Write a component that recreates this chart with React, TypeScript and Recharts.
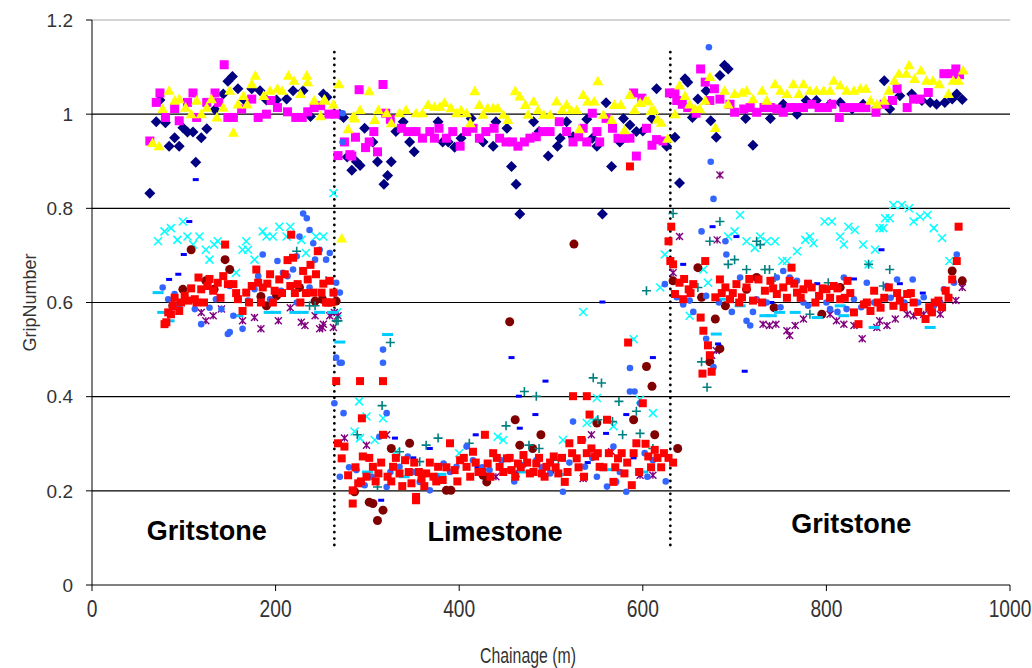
import { ScatterChart, Scatter, XAxis, YAxis, ReferenceLine, ReferenceDot } from "recharts";

// [chainage (m), grip number]
const navyDiamonds = [
  [63, 0.832], [70, 0.984], [74, 1.03], [80, 0.982], [84, 0.932], [90, 0.95], [95, 0.932], [99, 0.971], [104, 0.962], [110, 0.962],
  [113, 0.898], [119, 0.95], [125, 0.969], [134, 1.01], [143, 1.043], [148, 1.07], [153, 1.08], [159, 1.054], [166, 1.03], [174, 1.054],
  [183, 1.05], [190, 1.03], [201, 1.03], [212, 1.032], [219, 1.05], [230, 1.05], [238, 0.995], [252, 1.043], [256, 1.036], [270, 1.0],
  [274, 0.993], [278, 0.909], [283, 0.881], [288, 0.899], [292, 0.891], [297, 0.97], [306, 0.941], [311, 0.899], [318, 0.851], [322, 0.87],
  [326, 0.899], [331, 0.963], [339, 0.984], [346, 0.941], [351, 0.92], [377, 0.984], [382, 0.941], [388, 0.941], [395, 0.93], [402, 0.949],
  [413, 0.991], [426, 0.941], [437, 0.932], [440, 0.984], [452, 0.97], [457, 0.889], [462, 0.851], [466, 0.788], [481, 0.984], [487, 0.963],
  [497, 0.911], [507, 0.932], [510, 0.949], [517, 0.984], [524, 0.952], [539, 0.989], [545, 0.949], [550, 0.932], [556, 0.788], [560, 1.024],
  [566, 0.889], [575, 0.941], [579, 0.991], [586, 0.977], [593, 0.963], [600, 0.964], [610, 0.991], [615, 1.054], [626, 0.932], [635, 0.951],
  [640, 0.854], [646, 1.075], [649, 1.068], [654, 0.993], [660, 1.032], [669, 1.05], [674, 0.986], [680, 0.951], [684, 1.082], [689, 1.104],
  [693, 1.096], [712, 0.991], [720, 0.934], [739, 0.991], [753, 1.021], [768, 1.0], [778, 1.029], [789, 1.029], [804, 1.021], [815, 1.025],
  [828, 1.011], [840, 1.021], [855, 1.014], [863, 1.071], [869, 1.011], [880, 1.039], [893, 1.043], [904, 1.029], [913, 1.025], [920, 1.021],
  [929, 1.025], [937, 1.032], [942, 1.043], [948, 1.031],
];

const magentaSquares = [
  [63, 0.943], [70, 1.025], [74, 1.045], [80, 0.993], [90, 1.012], [95, 0.986], [104, 1.025], [110, 1.045], [114, 0.993], [125, 1.025],
  [134, 1.045], [138, 1.025], [144, 1.105], [148, 0.993], [154, 0.993], [163, 1.011], [174, 1.032], [181, 0.993], [190, 1.0], [195, 1.029],
  [202, 1.014], [213, 1.005], [222, 0.993], [229, 0.993], [235, 1.005], [242, 1.014], [249, 1.018], [258, 1.0], [265, 1.0], [268, 0.912],
  [275, 0.941], [281, 0.914], [283, 0.911], [287, 0.951], [291, 1.052], [298, 0.929], [302, 0.941], [307, 0.963], [311, 0.92], [317, 1.063],
  [320, 1.002], [325, 0.989], [337, 0.97], [344, 0.963], [353, 0.963], [360, 0.949], [368, 0.963], [373, 0.949], [378, 0.97], [386, 0.949],
  [393, 0.963], [401, 0.932], [408, 0.963], [415, 0.97], [422, 0.949], [429, 0.963], [438, 0.97], [444, 0.949], [451, 0.941], [458, 0.941],
  [464, 0.932], [471, 0.941], [477, 0.949], [484, 0.952], [491, 0.963], [499, 0.963], [509, 0.984], [517, 0.963], [524, 0.941], [530, 0.952],
  [535, 0.97], [539, 0.941], [545, 1.002], [550, 0.963], [553, 0.941], [560, 0.991], [567, 0.97], [573, 0.949], [580, 0.949], [586, 0.949],
  [590, 1.045], [593, 0.911], [599, 1.034], [604, 0.97], [610, 0.934], [615, 0.946], [622, 0.943], [629, 1.045], [635, 1.045], [637, 1.029],
  [643, 1.021], [649, 1.014], [658, 1.002], [663, 1.096], [668, 1.068], [673, 1.029], [678, 1.054], [684, 1.032], [695, 1.021], [700, 1.004],
  [710, 1.011], [717, 1.014], [724, 1.004], [732, 1.014], [739, 1.014], [746, 1.011], [753, 1.004], [761, 1.014], [768, 1.014], [775, 1.014],
  [784, 1.021], [792, 1.014], [801, 1.014], [806, 1.021], [814, 0.993], [819, 1.014], [826, 1.014], [835, 1.014], [843, 1.014], [854, 1.004],
  [863, 1.021], [872, 1.029], [877, 1.054], [888, 1.014], [895, 1.032], [902, 1.032], [911, 1.046], [928, 1.086], [936, 1.086], [941, 1.096],
  [945, 1.084],
];

const yellowTriangles = [
  [66, 0.939], [73, 0.932], [77, 1.011], [84, 1.05], [90, 1.029], [95, 1.032], [102, 1.014], [108, 1.0], [114, 1.029], [119, 1.0],
  [125, 1.014], [130, 1.032], [136, 0.993], [143, 1.014], [150, 1.05], [154, 0.961], [159, 1.021], [165, 1.039], [169, 1.021], [174, 1.064],
  [178, 1.082], [187, 1.039], [194, 1.05], [202, 1.054], [207, 1.05], [214, 1.082], [220, 1.071], [227, 1.043], [234, 1.082], [235, 1.068],
  [242, 1.029], [249, 0.996], [253, 1.031], [254, 1.029], [263, 1.021], [269, 1.064], [272, 0.736], [279, 0.968], [285, 0.996], [286, 0.991],
  [292, 1.009], [302, 1.049], [308, 0.988], [312, 1.009], [321, 1.002], [326, 0.981], [335, 1.002], [342, 1.009], [353, 1.002], [360, 1.002],
  [366, 1.02], [373, 1.016], [379, 1.016], [384, 1.024], [391, 1.013], [397, 1.002], [402, 1.009], [408, 1.002], [412, 0.981], [417, 1.049],
  [422, 1.02], [426, 0.999], [431, 1.013], [437, 1.013], [442, 1.013], [448, 0.999], [453, 0.988], [461, 1.049], [466, 1.038], [472, 1.02],
  [475, 0.999], [481, 1.027], [486, 1.009], [492, 0.999], [499, 0.999], [506, 1.027], [512, 1.009], [517, 1.02], [522, 1.009], [528, 1.009],
  [531, 0.968], [535, 1.041], [540, 1.027], [547, 1.027], [551, 1.07], [557, 0.999], [566, 0.988], [569, 1.02], [576, 1.02], [580, 0.966],
  [586, 1.041], [591, 1.009], [597, 1.024], [603, 1.029], [606, 1.027], [609, 1.007], [612, 1.009], [616, 0.989], [620, 0.982], [627, 0.948],
  [635, 1.0], [640, 1.061], [646, 1.039], [651, 1.021], [657, 1.011], [662, 1.011], [668, 1.029], [673, 1.079], [679, 0.971], [689, 1.05],
  [693, 1.021], [700, 1.043], [708, 1.046], [713, 1.05], [720, 1.032], [730, 1.05], [735, 1.029], [744, 1.064], [750, 1.05], [757, 1.043],
  [764, 1.064], [770, 1.043], [775, 1.064], [782, 1.05], [789, 1.05], [797, 1.05], [804, 1.05], [808, 1.071], [815, 1.061], [822, 1.05],
  [830, 1.05], [837, 1.054], [843, 1.054], [848, 1.029], [855, 1.021], [863, 1.029], [868, 1.05], [874, 1.071], [879, 1.086], [887, 1.086],
  [890, 1.104], [896, 1.075], [903, 1.093], [909, 1.071], [916, 1.071], [923, 1.064], [933, 1.043], [938, 1.071], [944, 1.071], [949, 1.093],
];

const cyanCrosses = [
  [72, 0.73], [79, 0.751], [86, 0.758], [93, 0.733], [99, 0.772], [104, 0.74], [110, 0.723], [117, 0.74], [124, 0.712], [128, 0.691],
  [133, 0.723], [137, 0.73], [157, 0.663], [164, 0.712], [168, 0.73], [170, 0.712], [177, 0.691], [186, 0.751], [190, 0.74], [197, 0.74],
  [204, 0.761], [212, 0.74], [216, 0.761], [228, 0.733], [233, 0.705], [244, 0.74], [252, 0.74], [263, 0.832], [267, 0.579],
  [286, 0.326], [291, 0.39], [292, 0.312], [299, 0.358], [308, 0.308], [317, 0.354], [331, 0.283], [400, 0.28], [442, 0.315], [448, 0.308],
  [513, 0.308], [535, 0.58], [539, 0.344], [546, 0.35], [550, 0.397], [568, 0.337], [590, 0.522], [597, 0.394], [611, 0.365],
  [619, 0.632], [624, 0.702], [651, 0.572], [666, 0.67], [671, 0.642], [693, 0.74], [700, 0.751], [706, 0.786], [713, 0.73], [722, 0.716],
  [728, 0.74], [735, 0.73], [744, 0.73], [752, 0.688], [757, 0.688], [768, 0.709], [777, 0.733], [782, 0.74], [786, 0.726], [798, 0.772],
  [806, 0.772], [815, 0.74], [819, 0.723], [824, 0.761], [831, 0.754], [840, 0.723], [846, 0.681], [853, 0.712], [858, 0.758], [862, 0.758],
  [864, 0.779], [869, 0.779], [873, 0.807], [882, 0.807], [890, 0.8], [895, 0.772], [902, 0.782], [910, 0.786], [917, 0.758], [926, 0.737],
  [934, 0.688],
];

const purpleStars = [
  [119, 0.579], [124, 0.561], [132, 0.572], [141, 0.586], [164, 0.561], [177, 0.568], [184, 0.544], [203, 0.561], [216, 0.589], [228, 0.558],
  [232, 0.551], [243, 0.572], [248, 0.544], [251, 0.547], [252, 0.554], [259, 0.572], [263, 0.547], [264, 0.579], [268, 0.572], [275, 0.312],
  [299, 0.297], [321, 0.319], [440, 0.23], [462, 0.237], [535, 0.226], [544, 0.319], [566, 0.283], [597, 0.233], [611, 0.233], [633, 0.663],
  [640, 0.74], [675, 0.488], [680, 0.498], [681, 0.733], [684, 0.871], [731, 0.554], [738, 0.551], [745, 0.554], [757, 0.54], [760, 0.53],
  [766, 0.551], [775, 0.565], [804, 0.575], [811, 0.561], [819, 0.554], [830, 0.551], [839, 0.523], [855, 0.547], [858, 0.561], [866, 0.551],
  [875, 0.565], [888, 0.575], [895, 0.572], [906, 0.575], [924, 0.575], [941, 0.604], [948, 0.632],
];

const darkRedCircles = [
  [88, 0.593], [99, 0.628], [108, 0.712], [124, 0.646], [133, 0.628], [145, 0.691], [150, 0.67], [184, 0.613], [190, 0.593], [201, 0.614],
  [226, 0.632], [243, 0.603], [251, 0.607], [266, 0.603], [286, 0.198], [302, 0.176], [306, 0.173], [311, 0.137], [317, 0.159], [326, 0.29],
  [346, 0.301], [386, 0.201], [391, 0.201], [426, 0.233], [430, 0.219], [455, 0.559], [461, 0.351], [466, 0.297], [480, 0.29], [489, 0.319],
  [525, 0.724], [550, 0.344], [590, 0.351], [604, 0.464], [610, 0.422], [613, 0.319], [633, 0.646], [638, 0.29], [660, 0.674], [664, 0.611],
  [673, 0.474], [679, 0.565], [684, 0.502], [690, 0.593], [713, 0.628], [724, 0.653], [743, 0.589], [795, 0.575], [815, 0.632], [937, 0.667],
  [948, 0.646],
];

const tealPluses = [
  [223, 0.709], [237, 0.593], [243, 0.593], [255, 0.646], [266, 0.561], [268, 0.561], [289, 0.319], [311, 0.208], [316, 0.381], [325, 0.515],
  [335, 0.283], [357, 0.262], [364, 0.297], [377, 0.312], [411, 0.301], [451, 0.338], [471, 0.411], [476, 0.297], [484, 0.401], [487, 0.29],
  [508, 0.265], [546, 0.44], [551, 0.351], [555, 0.429], [567, 0.347], [574, 0.39], [578, 0.319], [593, 0.369], [597, 0.322], [604, 0.625],
  [611, 0.29], [633, 0.789], [660, 0.632], [664, 0.474], [670, 0.42], [673, 0.73], [684, 0.772], [693, 0.681], [700, 0.691], [713, 0.67],
  [724, 0.73], [728, 0.723], [733, 0.67], [738, 0.67], [744, 0.653], [782, 0.575], [802, 0.642], [846, 0.681], [862, 0.635], [869, 0.67],
];

const blueDashes = [
  [84, 0.649], [94, 0.66], [100, 0.702], [106, 0.772], [113, 0.861], [315, 0.18], [330, 0.312], [350, 0.27], [368, 0.29], [418, 0.319],
  [420, 0.25], [457, 0.483], [465, 0.401], [466, 0.333], [483, 0.362], [494, 0.433], [500, 0.24], [540, 0.26], [556, 0.601], [560, 0.322],
  [582, 0.362], [590, 0.27], [611, 0.483], [644, 0.681], [676, 0.761], [682, 0.512], [702, 0.74], [711, 0.454], [740, 0.6], [790, 0.64],
  [830, 0.65], [860, 0.712], [880, 0.64], [905, 0.62],
];

const skyDashes = [
  [72, 0.621], [77, 0.579], [84, 0.561], [159, 0.572], [193, 0.579], [200, 0.579], [221, 0.579], [230, 0.579], [248, 0.579], [262, 0.579],
  [270, 0.516], [322, 0.532], [300, 0.24], [340, 0.23], [380, 0.235], [430, 0.245], [470, 0.24], [510, 0.235], [560, 0.245], [600, 0.24],
  [680, 0.533], [686, 0.607], [706, 0.593], [733, 0.572], [740, 0.572], [749, 0.579], [766, 0.579], [790, 0.568], [815, 0.593], [819, 0.572],
  [852, 0.547], [913, 0.547],
];

const blueDots = [
  [77, 0.632], [83, 0.607], [90, 0.618], [95, 0.593], [102, 0.607], [112, 0.586], [119, 0.554], [128, 0.589], [135, 0.607], [141, 0.586],
  [148, 0.533], [150, 0.635], [150, 0.537], [154, 0.572], [164, 0.544], [170, 0.604], [177, 0.628], [181, 0.656], [186, 0.702], [194, 0.607],
  [202, 0.688], [206, 0.625], [208, 0.663], [213, 0.656], [219, 0.67], [223, 0.698], [223, 0.6], [226, 0.74], [230, 0.789], [234, 0.779],
  [237, 0.754], [237, 0.632], [241, 0.726], [243, 0.691], [248, 0.712], [255, 0.691], [259, 0.705], [266, 0.642], [270, 0.621], [273, 1.002],
  [273, 0.941], [264, 0.386], [266, 0.483], [270, 0.472], [272, 0.472], [274, 0.365], [270, 0.23], [280, 0.25], [288, 0.244], [297, 0.212],
  [305, 0.23], [313, 0.315], [317, 0.5], [317, 0.472], [321, 0.365], [321, 0.208], [325, 0.24], [335, 0.251], [344, 0.273], [350, 0.24],
  [357, 0.219], [368, 0.201], [375, 0.23], [383, 0.258], [390, 0.24], [397, 0.251], [408, 0.294], [415, 0.265], [425, 0.25], [433, 0.244],
  [446, 0.265], [455, 0.244], [460, 0.22], [470, 0.255], [484, 0.265], [490, 0.25], [499, 0.237], [513, 0.198], [520, 0.26], [524, 0.347],
  [535, 0.308], [537, 0.251], [545, 0.27], [550, 0.23], [561, 0.209], [568, 0.294], [571, 0.219], [575, 0.24], [582, 0.198], [586, 0.461],
  [586, 0.411], [591, 0.411], [597, 0.386], [602, 0.28], [605, 0.23], [611, 0.265], [625, 0.22], [624, 0.639], [637, 0.611], [644, 0.596],
  [651, 0.604], [655, 0.58], [664, 0.751], [669, 0.523], [669, 0.614], [672, 1.142], [674, 0.899], [677, 0.82], [677, 0.463], [683, 0.6],
  [690, 0.73], [691, 0.702], [697, 0.58], [706, 0.653], [713, 0.561], [717, 0.551], [720, 0.58], [724, 0.607], [735, 0.6], [746, 0.653],
  [750, 0.59], [753, 0.667], [760, 0.653], [768, 0.646], [775, 0.6], [780, 0.593], [793, 0.614], [800, 0.6], [804, 0.586], [812, 0.58],
  [819, 0.653], [822, 0.586], [830, 0.607], [838, 0.59], [844, 0.642], [852, 0.6], [866, 0.635], [870, 0.61], [877, 0.649], [885, 0.6],
  [894, 0.649], [900, 0.6], [906, 0.611], [913, 0.58], [917, 0.593], [924, 0.6], [928, 0.628], [939, 0.642], [942, 0.702],
];

const redSquares = [
  [79, 0.554], [81, 0.558], [83, 0.579], [86, 0.575], [88, 0.593], [90, 0.61], [95, 0.582], [97, 0.6], [101, 0.614], [105, 0.604],
  [108, 0.63], [112, 0.607], [114, 0.6], [116, 0.653], [119, 0.628], [122, 0.6], [126, 0.635], [128, 0.65], [132, 0.625], [137, 0.642],
  [140, 0.61], [143, 0.656], [145, 0.723], [148, 0.639], [154, 0.639], [157, 0.62], [159, 0.607], [164, 0.582], [168, 0.621], [171, 0.6],
  [174, 0.635], [179, 0.67], [181, 0.642], [184, 0.6], [186, 0.632], [191, 0.64], [194, 0.66], [197, 0.6], [199, 0.625], [204, 0.649],
  [207, 0.62], [210, 0.66], [213, 0.69], [216, 0.635], [217, 0.744], [219, 0.695], [221, 0.62], [224, 0.639], [227, 0.6], [230, 0.667],
  [233, 0.62], [235, 0.649], [238, 0.68], [241, 0.621], [244, 0.66], [246, 0.709], [250, 0.621], [252, 0.64], [255, 0.6], [257, 0.6],
  [259, 0.646], [261, 0.6], [263, 0.621],
  [266, 0.433], [268, 0.301], [272, 0.269], [275, 0.294], [279, 0.233], [284, 0.201], [284, 0.173], [287, 0.25], [290, 0.216], [292, 0.433],
  [293, 0.22], [294, 0.354], [295, 0.273], [299, 0.23], [302, 0.27], [306, 0.251], [309, 0.22], [312, 0.237], [315, 0.26], [317, 0.319],
  [317, 0.433], [322, 0.23], [326, 0.22], [328, 0.251], [331, 0.27], [335, 0.237], [338, 0.21], [341, 0.265], [345, 0.24], [348, 0.216],
  [351, 0.26], [353, 0.187], [353, 0.18], [356, 0.24], [359, 0.226], [362, 0.21], [364, 0.237], [368, 0.26], [372, 0.23], [375, 0.22],
  [377, 0.251], [382, 0.223], [386, 0.25], [390, 0.301], [395, 0.244], [398, 0.22], [401, 0.265], [405, 0.27], [408, 0.251], [412, 0.23],
  [415, 0.283], [418, 0.26], [421, 0.24], [425, 0.24], [428, 0.319], [431, 0.258], [434, 0.23], [437, 0.28], [441, 0.27], [444, 0.251],
  [448, 0.24], [452, 0.269], [455, 0.27], [457, 0.244], [461, 0.23], [464, 0.258], [467, 0.25], [470, 0.276], [474, 0.26], [477, 0.237],
  [481, 0.24], [484, 0.258], [487, 0.27], [490, 0.237], [493, 0.23], [495, 0.251], [499, 0.26], [503, 0.273], [505, 0.25], [508, 0.237],
  [512, 0.27], [515, 0.219], [518, 0.24], [520, 0.301], [523, 0.28], [524, 0.401], [528, 0.269], [530, 0.25], [533, 0.308], [536, 0.23],
  [539, 0.28], [539, 0.401], [542, 0.362], [544, 0.29], [548, 0.273], [551, 0.28], [553, 0.251], [557, 0.25], [561, 0.351], [563, 0.28],
  [568, 0.219], [570, 0.25], [573, 0.269], [577, 0.28], [580, 0.237], [583, 0.26], [584, 0.515], [586, 0.889], [588, 0.212], [590, 0.28],
  [593, 0.301], [596, 0.24], [600, 0.386], [603, 0.3], [606, 0.273], [609, 0.25], [613, 0.287], [616, 0.27], [620, 0.25], [623, 0.28],
  [628, 0.27], [633, 0.26],
  [631, 0.761], [628, 0.73], [630, 0.688], [633, 0.681], [635, 0.618], [640, 0.642], [644, 0.607], [645, 0.65], [650, 0.628], [652, 0.62],
  [655, 0.639], [663, 0.568], [665, 0.449], [666, 0.54], [668, 0.688], [671, 0.509], [673, 0.488], [675, 0.453], [679, 0.611], [684, 0.649],
  [686, 0.62], [690, 0.632], [695, 0.607], [698, 0.62], [702, 0.639], [705, 0.6], [708, 0.611], [713, 0.632], [716, 0.65], [720, 0.604],
  [726, 0.649], [730, 0.6], [733, 0.625], [739, 0.646], [742, 0.63], [746, 0.618], [753, 0.632], [757, 0.61], [760, 0.646], [762, 0.674],
  [765, 0.64], [768, 0.621], [772, 0.61], [775, 0.628], [780, 0.64], [784, 0.632], [788, 0.6], [792, 0.614], [796, 0.63], [800, 0.628],
  [804, 0.61], [808, 0.635], [812, 0.63], [815, 0.607], [820, 0.61], [823, 0.646], [826, 0.62], [830, 0.579], [835, 0.554], [841, 0.596],
  [844, 0.6], [848, 0.582], [852, 0.625], [856, 0.6], [859, 0.589], [863, 0.61], [868, 0.632], [873, 0.593], [877, 0.62], [880, 0.604],
  [884, 0.59], [888, 0.618], [892, 0.62], [895, 0.6], [900, 0.58], [908, 0.565], [912, 0.59], [915, 0.579], [918, 0.6], [922, 0.604],
  [926, 0.59], [930, 0.625], [933, 0.61], [937, 0.649], [942, 0.688], [944, 0.761],
];

const xTicks = [0, 200, 400, 600, 800, 1000];
const yTicks = [0, 0.2, 0.4, 0.6, 0.8, 1, 1.2];
const gridValues = [0.2, 0.4, 0.6, 0.8, 1];
const boundaries = [264, 630];
const zones = [
  { name: "Gritstone", x: 125, y: 0.115 },
  { name: "Limestone", x: 439, y: 0.113 },
  { name: "Gritstone", x: 827, y: 0.13 },
];

const pts = (arr: number[][]) => arr.map(([x, y]) => ({ x, y }));

const diamond = (fill: string, r: number) => (p: any) => (
  <path d={`M${p.cx},${p.cy - r}L${p.cx + r},${p.cy}L${p.cx},${p.cy + r}L${p.cx - r},${p.cy}Z`} fill={fill} />
);
const square = (fill: string, h: number) => (p: any) => (
  <rect x={p.cx - h} y={p.cy - h} width={h * 2} height={h * 2} fill={fill} />
);
const triangle = (fill: string, r: number) => (p: any) => (
  <path d={`M${p.cx},${p.cy - r}L${p.cx + r},${p.cy + r * 0.75}L${p.cx - r},${p.cy + r * 0.75}Z`} fill={fill} />
);
const circle = (fill: string, r: number) => (p: any) => <circle cx={p.cx} cy={p.cy} r={r} fill={fill} />;
const cross = (stroke: string, r: number) => (p: any) => (
  <path d={`M${p.cx - r},${p.cy - r}L${p.cx + r},${p.cy + r}M${p.cx - r},${p.cy + r}L${p.cx + r},${p.cy - r}`} stroke={stroke} strokeWidth={1.5} fill="none" />
);
const star = (stroke: string, r: number) => (p: any) => (
  <path
    d={`M${p.cx - r},${p.cy - r}L${p.cx + r},${p.cy + r}M${p.cx - r},${p.cy + r}L${p.cx + r},${p.cy - r}M${p.cx},${p.cy - r}L${p.cx},${p.cy + r}`}
    stroke={stroke}
    strokeWidth={1.4}
    fill="none"
  />
);
const plus = (stroke: string, r: number) => (p: any) => (
  <path d={`M${p.cx - r},${p.cy}L${p.cx + r},${p.cy}M${p.cx},${p.cy - r}L${p.cx},${p.cy + r}`} stroke={stroke} strokeWidth={1.6} fill="none" />
);
const dash = (fill: string, w: number) => (p: any) => <rect x={p.cx - w / 2} y={p.cy - 1.5} width={w} height={3} fill={fill} />;

const font = "Liberation Sans, Arial, sans-serif";

// narrow x-axis numbers, as in the original
const NarrowTick = (props: any) => {
  const { x, y, payload } = props;
  return (
    <g transform={`translate(${x},${y})`}>
      <text transform="scale(0.8,1)" textAnchor="middle" dy="0.72em" fontFamily={font} fontSize={24} fill="#333">
        {payload.value}
      </text>
    </g>
  );
};

const XTitle = () => (
  <g transform="translate(528,663)">
    <text transform="scale(0.72,1)" textAnchor="middle" fontFamily={font} fontSize={22} fill="#333">
      Chainage (m)
    </text>
  </g>
);

export default function App() {
  return (
    <div style={{ position: "absolute", left: 0, top: 0 }}>
      <ScatterChart width={1032} height={668} margin={{ top: 20, right: 22, bottom: 0, left: 0 }}>
        <XAxis
          type="number"
          dataKey="x"
          domain={[0, 1000]}
          ticks={xTicks}
          height={83}
          tickSize={6}
          tickMargin={9}
          stroke="#000"
          tick={<NarrowTick />}
          label={<XTitle />}
        />
        <YAxis
          type="number"
          dataKey="y"
          domain={[0, 1.2]}
          ticks={yTicks}
          width={92}
          tickSize={6}
          tickMargin={13}
          stroke="#000"
          tick={{ fontFamily: font, fontSize: 19, fill: "#333" }}
          label={{ value: "GripNumber", angle: -90, position: "center", dx: -16, style: { fontFamily: font, fontSize: 18, fill: "#333" } }}
        />
        {gridValues.map((v) => (
          <ReferenceLine key={v} y={v} stroke="#000" strokeWidth={1.2} />
        ))}
        <ReferenceLine y={1.2} stroke="#aaa" strokeWidth={1.2} />
        <Scatter data={pts(navyDiamonds)} shape={diamond("#000080", 5.5)} isAnimationActive={false} />
        <Scatter data={pts(magentaSquares)} shape={square("#FF00FF", 4.5)} isAnimationActive={false} />
        <Scatter data={pts(yellowTriangles)} shape={triangle("#FFFF00", 5.5)} isAnimationActive={false} />
        <Scatter data={pts(cyanCrosses)} shape={cross("#00FFFF", 4)} isAnimationActive={false} />
        <Scatter data={pts(purpleStars)} shape={star("#800080", 3.5)} isAnimationActive={false} />
        <Scatter data={pts(darkRedCircles)} shape={circle("#800000", 4.5)} isAnimationActive={false} />
        <Scatter data={pts(tealPluses)} shape={plus("#008080", 4.5)} isAnimationActive={false} />
        <Scatter data={pts(blueDashes)} shape={dash("#0000FF", 6)} isAnimationActive={false} />
        <Scatter data={pts(skyDashes)} shape={dash("#00CCFF", 11)} isAnimationActive={false} />
        <Scatter data={pts(blueDots)} shape={circle("#3366FF", 3.3)} isAnimationActive={false} />
        <Scatter data={pts(redSquares)} shape={square("#FF0000", 4)} isAnimationActive={false} />
        {boundaries.map((b) => (
          <ReferenceLine
            key={b}
            segment={[{ x: b, y: 0.085 }, { x: b, y: 1.14 }]}
            stroke="#000"
            strokeWidth={2.8}
            strokeDasharray="0 6.4"
            strokeLinecap="round"
          />
        ))}
        {zones.map((z, i) => (
          <ReferenceDot
            key={i}
            x={z.x}
            y={z.y}
            r={0}
            stroke="none"
            label={{ value: z.name, position: "center", style: { fontFamily: font, fontWeight: "bold", fontSize: 27, fill: "#000" } }}
          />
        ))}
      </ScatterChart>
    </div>
  );
}
